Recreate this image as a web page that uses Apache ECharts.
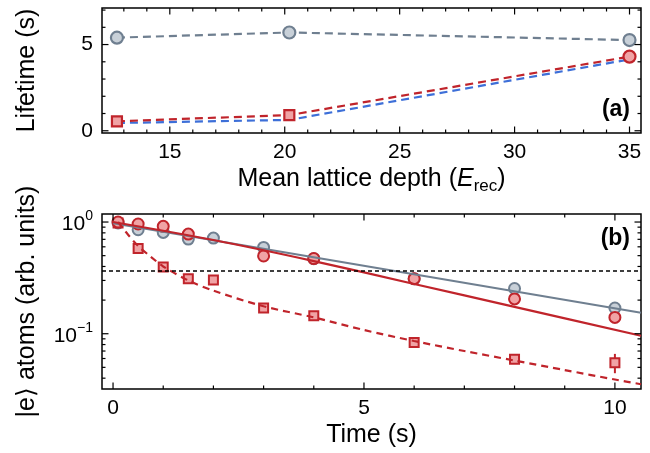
<!DOCTYPE html>
<html>
<head>
<meta charset="utf-8">
<script src="https://cdn.jsdelivr.net/npm/echarts@6/dist/echarts.min.js"></script>
<style>
html, body { margin: 0; padding: 0; background: #fff; }
#chart { width: 650px; height: 453px; }
</style>
</head>
<body>
<div id="chart"></div>
<script>
// ---- panel (a): lifetime vs lattice depth
var depth = [12.7, 20.2, 35];
var lifeGray = [5.40, 5.70, 5.26];
var lifeRed = [0.55, 0.91, 4.30];
var lifeBlue = [0.45, 0.63, 4.14];
var lifeRedSymbol = ['rect', 'rect', 'circle'];
var depthTicks = [15, 20, 25, 30, 35];
var depthMinor = [13, 14, 16, 17, 18, 19, 21, 22, 23, 24, 26, 27, 28, 29, 31, 32, 33, 34];
var lifeTicks = [0, 5];
var lifeMinor = [1, 2, 3, 4, 6, 7];

// ---- panel (b): |e> atoms vs time
var tRed = [0.1, 0.5, 1, 1.5, 3, 4, 6, 8, 10];
var redAtoms = [1.0, 0.96, 0.915, 0.78, 0.497, 0.471, 0.311, 0.205, 0.140];
var tGray = [0.1, 0.5, 1, 1.5, 2, 3, 4, 6, 8, 10];
var grayAtoms = [0.98, 0.853, 0.807, 0.703, 0.718, 0.592, 0.47, 0.31, 0.254, 0.170];
var tSq = [0.1, 0.5, 1, 1.5, 2, 3, 4, 6, 8, 10];
var sqAtoms = [0.98, 0.580, 0.396, 0.311, 0.302, 0.170, 0.145, 0.0835, 0.0592, 0.0551];
var sqErrT = [10];
var sqErrLo = [0.0443];
var sqErrHi = [0.066];
var tGrayFit = [0, 10.52];
var grayFit = [0.975, 0.154];
var tRedFit = [0, 2, 4, 6, 8, 10.52];
var redFit = [1.0, 0.69, 0.447, 0.279, 0.174, 0.096];
var tRedDash = [0.1, 0.3, 0.5, 0.75, 1, 1.5, 2, 3, 4, 5, 6, 7, 8, 9, 10, 10.52];
var redDash = [1.0, 0.77, 0.61, 0.49, 0.40, 0.30, 0.243, 0.176, 0.140, 0.108, 0.086, 0.070, 0.0575, 0.0473, 0.0389, 0.0353];
var threshold = 0.3679; // 1/e
var timeTicks = [0, 5, 10];
var timeMinor = [1, 2, 3, 4, 6, 7, 8, 9];
var atomTicks = [0.1, 1];
var atomMinor = [0.04, 0.05, 0.06, 0.07, 0.08, 0.09, 0.2, 0.3, 0.4, 0.5, 0.6, 0.7, 0.8, 0.9];

var FONT = 'Liberation Sans, Arial, Helvetica, sans-serif';
var GRAY = '#6f7f90', GRAYFILL = '#c8d0d8';
var RED = '#c0242b', REDFILL = '#f0a3a5';
var BLUE = '#3d6fd8';

function zip(xs, ys) {
    return xs.map(function (x, i) { return [x, ys[i]]; });
}

// inward ticks on both sides of a grid, placed through the axis scale
function ticks(gi, dim, values, ref, len) {
    return {
        type: 'custom', xAxisIndex: gi, yAxisIndex: gi, silent: true, clip: false, z: 5,
        data: values.map(function (v) { return dim === 'x' ? [v, ref] : [ref, v]; }),
        renderItem: function (params, api) {
            var cs = params.coordSys;
            var p = api.coord([api.value(0), api.value(1)]);
            var st = { stroke: '#000', lineWidth: 1.2 };
            var a, b;
            if (dim === 'x') {
                a = { x1: p[0], y1: cs.y + cs.height, x2: p[0], y2: cs.y + cs.height - len };
                b = { x1: p[0], y1: cs.y, x2: p[0], y2: cs.y + len };
            } else {
                a = { x1: cs.x, y1: p[1], x2: cs.x + len, y2: p[1] };
                b = { x1: cs.x + cs.width, y1: p[1], x2: cs.x + cs.width - len, y2: p[1] };
            }
            return { type: 'group', children: [
                { type: 'line', shape: a, style: st },
                { type: 'line', shape: b, style: st }
            ] };
        }
    };
}

var tickLabel = { show: true, color: '#000', fontSize: 21, fontFamily: FONT, margin: 9 };
function lbl(values, more) {
    var o = { customValues: values };
    for (var k in tickLabel) o[k] = tickLabel[k];
    for (var m in more) o[m] = more[m];
    return o;
}
var nameStyle = { color: '#000', fontSize: 25, fontFamily: FONT };
var plain = {
    axisLine: { show: false, onZero: false },
    axisTick: { show: false },
    splitLine: { show: false }
};
function axis(o) {
    for (var k in plain) o[k] = plain[k];
    return o;
}

var chart = echarts.init(document.getElementById('chart'));

chart.setOption({
    animation: false,
    backgroundColor: '#fff',
    grid: [
        { left: 102, top: 8, width: 539, height: 125, show: true, borderColor: '#000', borderWidth: 1.5, backgroundColor: 'transparent' },
        { left: 102, top: 214, width: 539, height: 175, show: true, borderColor: '#000', borderWidth: 1.5, backgroundColor: 'transparent' }
    ],
    xAxis: [
        axis({
            gridIndex: 0, type: 'value', min: 12.05, max: 35.5,
            axisLabel: lbl(depthTicks),
            name: '{n|Mean lattice depth (}{i|E}{s|rec}{n|)}',
            nameLocation: 'middle', nameGap: 34,
            nameTextStyle: { rich: {
                n: { fontSize: 25, fontFamily: FONT, color: '#000', padding: [0, 0, 3, 0] },
                i: { fontSize: 25, fontFamily: FONT, color: '#000', fontStyle: 'italic', padding: [0, 0, 3, 0] },
                s: { fontSize: 17, fontFamily: FONT, color: '#000', verticalAlign: 'bottom' }
            } }
        }),
        axis({
            gridIndex: 1, type: 'value', min: -0.22, max: 10.52,
            axisLabel: lbl(timeTicks),
            name: 'Time (s)', nameLocation: 'middle', nameGap: 34, nameTextStyle: nameStyle
        })
    ],
    yAxis: [
        axis({
            gridIndex: 0, type: 'value', min: -0.13, max: 7.12,
            axisLabel: lbl(lifeTicks),
            name: 'Lifetime (s)', nameLocation: 'middle', nameRotate: 90, nameGap: 62, nameTextStyle: nameStyle
        }),
        axis({
            gridIndex: 1, type: 'log', logBase: 10, min: 0.032, max: 1.18,
            axisLabel: lbl(atomTicks, {
                formatter: function (v) {
                    var e = Math.round(Math.log10(v));
                    return '{b|10}{s|' + (e < 0 ? '\u2212' + (-e) : e) + '}';
                },
                rich: {
                    b: { fontSize: 21, fontFamily: FONT, color: '#000', padding: [5, 0, 0, 0] },
                    s: { fontSize: 14, fontFamily: FONT, color: '#000', verticalAlign: 'top' }
                }
            }),
            name: '|e\u27E9 atoms (arb. units)', nameLocation: 'middle', nameRotate: 90, nameGap: 62, nameTextStyle: nameStyle
        })
    ],
    graphic: [
        { type: 'text', x: 630, y: 110, z: 100, style: { text: '(a)', textAlign: 'right', textVerticalAlign: 'middle',
            fontSize: 23, fontWeight: 'bold', fontFamily: FONT, fill: '#000' } },
        { type: 'text', x: 630, y: 239, z: 100, style: { text: '(b)', textAlign: 'right', textVerticalAlign: 'middle',
            fontSize: 23, fontWeight: 'bold', fontFamily: FONT, fill: '#000' } }
    ],
    series: [
        ticks(0, 'x', depthTicks, 1, 6.5),
        ticks(0, 'x', depthMinor, 1, 3.5),
        ticks(0, 'y', lifeTicks, 20, 6.5),
        ticks(0, 'y', lifeMinor, 20, 3.5),
        ticks(1, 'x', timeTicks, 0.5, 6.5),
        ticks(1, 'x', timeMinor, 0.5, 3.5),
        ticks(1, 'y', atomTicks, 5, 6.5),
        ticks(1, 'y', atomMinor, 5, 3.5),
        // panel (a)
        {
            type: 'line', xAxisIndex: 0, yAxisIndex: 0, data: zip(depth, lifeBlue),
            showSymbol: false, lineStyle: { color: BLUE, width: 2.2, type: [8, 5] }
        },
        {
            type: 'line', xAxisIndex: 0, yAxisIndex: 0,
            data: depth.map(function (d, i) {
                return { value: [d, lifeRed[i]], symbol: lifeRedSymbol[i], symbolSize: lifeRedSymbol[i] === 'rect' ? 10 : 12 };
            }),
            lineStyle: { color: RED, width: 2.2, type: [8, 5] },
            itemStyle: { color: REDFILL, borderColor: RED, borderWidth: 2.2 }
        },
        {
            type: 'line', xAxisIndex: 0, yAxisIndex: 0, data: zip(depth, lifeGray),
            symbol: 'circle', symbolSize: 12,
            lineStyle: { color: GRAY, width: 2.2, type: [8, 5] },
            itemStyle: { color: GRAYFILL, borderColor: GRAY, borderWidth: 2.2 }
        },
        // panel (b) fits
        {
            type: 'line', xAxisIndex: 1, yAxisIndex: 1, data: zip(tGrayFit, grayFit),
            showSymbol: false, lineStyle: { color: GRAY, width: 2.2 },
            markLine: {
                silent: true, symbol: 'none', label: { show: false },
                lineStyle: { color: '#000', width: 1.5, type: [4, 3] },
                data: [{ yAxis: threshold }]
            }
        },
        {
            type: 'line', xAxisIndex: 1, yAxisIndex: 1, data: zip(tRedFit, redFit),
            showSymbol: false, smooth: 0.3, lineStyle: { color: RED, width: 2.2 }
        },
        {
            type: 'line', xAxisIndex: 1, yAxisIndex: 1, data: zip(tRedDash, redDash),
            showSymbol: false, smooth: 0.3, lineStyle: { color: RED, width: 2.2, type: [7, 5] }
        },
        // panel (b) data
        {
            type: 'scatter', xAxisIndex: 1, yAxisIndex: 1, data: zip(tGray, grayAtoms),
            symbol: 'circle', symbolSize: 11,
            itemStyle: { color: GRAYFILL, borderColor: GRAY, borderWidth: 2, opacity: 1 }
        },
        {
            type: 'custom', xAxisIndex: 1, yAxisIndex: 1,
            data: sqErrT.map(function (t, i) { return [t, sqErrLo[i], sqErrHi[i]]; }),
            encode: { x: 0, y: [1, 2] },
            renderItem: function (params, api) {
                var lo = api.coord([api.value(0), api.value(1)]);
                var hi = api.coord([api.value(0), api.value(2)]);
                return { type: 'line', shape: { x1: lo[0], y1: lo[1], x2: hi[0], y2: hi[1] },
                    style: { stroke: RED, lineWidth: 2 } };
            }
        },
        {
            type: 'scatter', xAxisIndex: 1, yAxisIndex: 1, data: zip(tSq, sqAtoms),
            symbol: 'rect', symbolSize: 9,
            itemStyle: { color: REDFILL, borderColor: RED, borderWidth: 2, opacity: 1 }
        },
        {
            type: 'scatter', xAxisIndex: 1, yAxisIndex: 1, data: zip(tRed, redAtoms),
            symbol: 'circle', symbolSize: 11,
            itemStyle: { color: REDFILL, borderColor: RED, borderWidth: 2, opacity: 1 }
        }
    ]
});
</script>
</body>
</html>
